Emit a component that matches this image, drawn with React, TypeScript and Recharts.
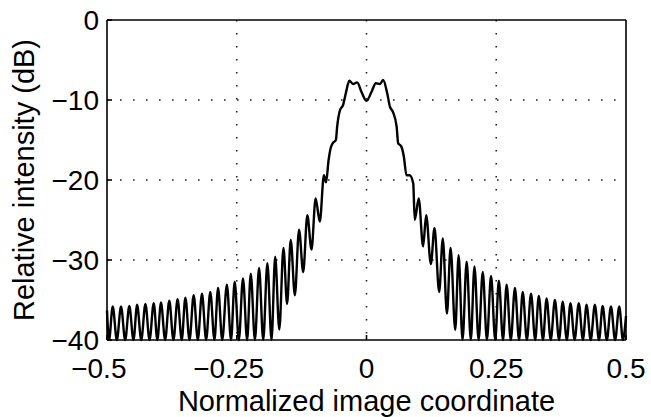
import React from 'react';
import { LineChart, Line, XAxis, YAxis, CartesianGrid, ReferenceLine } from 'recharts';

// Left side lobes (x in normalized image coordinate, y in dB)
const leftX = [
  -0.500, -0.496, -0.489, -0.481, -0.473, -0.465, -0.457, -0.449, -0.442, -0.434,
  -0.426, -0.418, -0.410, -0.403, -0.396, -0.388, -0.380, -0.372, -0.364, -0.356,
  -0.349, -0.341, -0.333, -0.325, -0.317, -0.309, -0.301, -0.293, -0.286, -0.278,
  -0.269, -0.261, -0.254, -0.246, -0.238, -0.230, -0.223, -0.215, -0.207, -0.199,
  -0.191, -0.183, -0.176, -0.168, -0.160, -0.153, -0.146, -0.138, -0.130, -0.122,
  -0.114, -0.106, -0.098, -0.090,
];
const leftY = [
  -36.3, -40, -35.8, -40, -35.8, -40, -35.75, -40, -35.6, -40,
  -35.5, -40, -35.4, -40, -35.3, -40, -35.1, -40, -34.9, -40,
  -34.7, -40, -34.4, -40, -34.2, -40, -34.0, -40, -33.5, -40,
  -33.1, -40, -32.7, -40, -32.3, -40, -31.7, -40, -31.0, -40,
  -30.4, -40, -29.6, -38.7, -28.5, -35.5, -27.5, -34.4, -26.2, -31.5,
  -24.4, -28.7, -22.3, -25.2,
];

// Main lobe
const lobeX = [
  -0.082, -0.078, -0.073, -0.069, -0.065, -0.059, -0.0565, -0.051, -0.045, -0.040,
  -0.033, -0.026, -0.018, -0.0096, 0, 0.0096, 0.018, 0.026, 0.032, 0.040,
  0.045, 0.051, 0.058, 0.061, 0.067, 0.072, 0.077, 0.083, 0.090,
];
const lobeY = [
  -19.4, -20.3, -17.5, -16.0, -15.4, -15.0, -13.3, -11.25, -10.6, -9.2,
  -7.6, -8.0, -7.8, -9.0, -10.1, -9.0, -7.9, -8.0, -7.5, -9.2,
  -10.8, -11.5, -13.3, -15.4, -15.8, -17.1, -19.4, -19.4, -20.4,
];

// Right side lobes
const rightX = [
  0.093, 0.1006, 0.109, 0.115, 0.124, 0.131, 0.140, 0.147, 0.155, 0.162,
  0.171, 0.1775, 0.185, 0.193, 0.201, 0.208, 0.216, 0.224, 0.232, 0.240,
  0.248, 0.255, 0.263, 0.270, 0.278, 0.286, 0.294, 0.301, 0.309, 0.317,
  0.325, 0.332, 0.340, 0.347, 0.355, 0.363, 0.371, 0.378, 0.386, 0.393,
  0.401, 0.409, 0.417, 0.424, 0.432, 0.440, 0.448, 0.455, 0.463, 0.471,
  0.479, 0.487, 0.494, 0.500,
];
const rightY = [
  -25.0, -22.3, -28.3, -24.4, -30.5, -26.0, -34.0, -27.3, -36.7, -28.5,
  -38.75, -29.4, -40, -30.2, -40, -30.8, -40, -31.5, -40, -32.0,
  -40, -32.6, -40, -33.1, -40, -33.5, -40, -34.0, -40, -34.2,
  -40, -34.5, -40, -34.8, -40, -35.0, -40, -35.2, -40, -35.4,
  -40, -35.4, -40, -35.6, -40, -35.6, -40, -35.75, -40, -35.8,
  -40, -35.8, -40, -37.0,
];

const xTicks = [-0.5, -0.25, 0, 0.25, 0.5];
const yTicks = [0, -10, -20, -30, -40];

const xLabel = 'Normalized image coordinate';
const yLabel = 'Relative intensity (dB)';

function zip(xs: number[], ys: number[]) {
  const n = Math.min(xs.length, ys.length);
  const out: { x: number; y: number }[] = [];
  for (let i = 0; i < n; i++) out.push({ x: xs[i], y: ys[i] });
  return out;
}

const data = [...zip(leftX, leftY), ...zip(lobeX, lobeY), ...zip(rightX, rightY)];

const fmt = (v: number) => (v < 0 ? '\u2212' + String(Math.abs(v)) : String(v));
const blank = () => '';

const FONT = '"Liberation Sans", Arial, Helvetica, sans-serif';
const TICK_FS = 28;

// x tick: the digits are centred on the tick, a minus sign hangs to the left
const XTick = (props: any) => {
  const { x, y, payload } = props;
  const v = payload.value as number;
  const shift = v < 0 ? 0.292 * TICK_FS : 0;
  return (
    <text x={x - shift} y={y} dy="0.71em" textAnchor="middle" fill="#000" fontSize={TICK_FS} fontFamily={FONT}>
      {fmt(v)}
    </text>
  );
};

const AX = { stroke: '#000', strokeWidth: 1.6 };

export default function App() {
  return (
    <div style={{ position: 'absolute', left: 0, top: 0, background: '#fff' }}>
      <LineChart
        width={651}
        height={417}
        data={data}
        margin={{ top: 20, right: 25, bottom: 0, left: 0 }}
        style={{ fontFamily: FONT }}
      >
        <CartesianGrid
          stroke="#222"
          strokeWidth={1.6}
          strokeDasharray="1.6 11.4"
          horizontalValues={[-10, -20, -30]}
          verticalValues={[-0.25, 0, 0.25]}
        />
        <XAxis
          dataKey="x"
          type="number"
          domain={[-0.5, 0.5]}
          ticks={xTicks}
          tick={<XTick />}
          tickLine={AX}
          tickSize={-5}
          tickMargin={23}
          height={77}
          axisLine={AX}
          label={{ value: xLabel, position: 'insideBottom', offset: 6, fill: '#000', fontSize: 29, fontFamily: FONT }}
        />
        <XAxis
          xAxisId="top"
          orientation="top"
          type="number"
          domain={[-0.5, 0.5]}
          ticks={xTicks}
          tickFormatter={blank}
          tickLine={AX}
          tickSize={-5}
          height={0}
          axisLine={AX}
        />
        <YAxis
          type="number"
          domain={[-40, 0]}
          ticks={yTicks}
          tickFormatter={fmt}
          tickLine={AX}
          tickSize={-5}
          tickMargin={13}
          width={107}
          axisLine={AX}
          tick={{ fill: '#000', fontSize: TICK_FS, fontFamily: FONT }}
          label={{ value: yLabel, angle: -90, position: 'insideLeft', offset: 24, fill: '#000', fontSize: 29, fontFamily: FONT, style: { textAnchor: 'middle' } }}
        />
        <YAxis
          yAxisId="right"
          orientation="right"
          type="number"
          domain={[-40, 0]}
          ticks={yTicks}
          tickFormatter={blank}
          tickLine={AX}
          tickSize={-5}
          width={0}
          axisLine={AX}
        />
        <ReferenceLine y={0} stroke="#000" strokeWidth={1.6} />
        <ReferenceLine x={0.5} stroke="#000" strokeWidth={1.6} />
        <Line
          type="monotone"
          dataKey="y"
          stroke="#000"
          strokeWidth={2.4}
          dot={false}
          isAnimationActive={false}
        />
      </LineChart>
    </div>
  );
}
